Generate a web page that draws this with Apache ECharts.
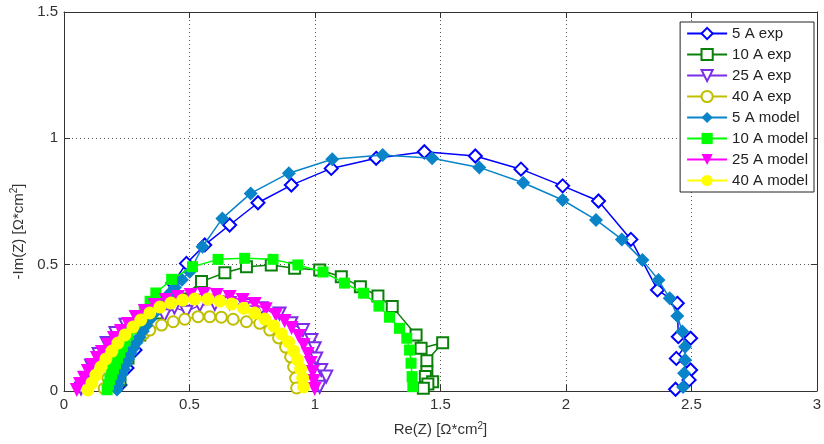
<!DOCTYPE html>
<html>
<head>
<meta charset="utf-8">
<script src="https://cdn.jsdelivr.net/npm/echarts@6/dist/echarts.min.js"></script>
<style>
html,body{margin:0;padding:0;background:#fff;}
#c{width:824px;height:444px;}
</style>
</head>
<body>
<div id="c"></div>
<script>
// ---- data (Re(Z), -Im(Z)) in Ω*cm² ----
var seriesNames = ['5 A exp','10 A exp','25 A exp','40 A exp','5 A model','10 A model','25 A model','40 A model'];
var xTicks = [0, 0.5, 1, 1.5, 2, 2.5, 3];
var yTicks = [0, 0.5, 1, 1.5];

var exp5 = [[0.223,0.024],[0.251,0.091],[0.283,0.162],[0.322,0.241],[0.382,0.340],[0.434,0.427],[0.488,0.505],[0.561,0.578],[0.660,0.657],[0.773,0.745],[0.906,0.815],[1.065,0.881],[1.244,0.921],[1.436,0.947],[1.639,0.930],[1.821,0.878],[1.987,0.812],[2.130,0.752],[2.259,0.600],[2.365,0.400],[2.444,0.347],[2.448,0.215],[2.497,0.209],[2.440,0.129],[2.497,0.083],[2.491,0.044],[2.437,0.007]];
var exp10 = [[0.223,0.044],[0.255,0.131],[0.302,0.222],[0.370,0.309],[0.462,0.364],[0.548,0.433],[0.641,0.468],[0.727,0.492],[0.826,0.499],[0.919,0.486],[1.019,0.479],[1.105,0.452],[1.181,0.413],[1.251,0.376],[1.308,0.334],[1.403,0.222],[1.423,0.169],[1.509,0.191],[1.446,0.120],[1.446,0.076],[1.440,0.057],[1.469,0.037],[1.450,0.028],[1.432,0.011]];
var exp25 = [[0.068,0.010],[0.085,0.052],[0.108,0.100],[0.138,0.146],[0.170,0.190],[0.205,0.230],[0.245,0.262],[0.290,0.290],[0.342,0.313],[0.400,0.300],[0.440,0.330],[0.488,0.314],[0.541,0.340],[0.601,0.344],[0.660,0.348],[0.720,0.340],[0.788,0.328],[0.859,0.307],[0.906,0.268],[0.952,0.241],[0.986,0.202],[0.999,0.169],[1.005,0.129],[1.025,0.083],[1.045,0.057],[1.019,0.017]];
var exp40 = [[0.160,0.010],[0.175,0.051],[0.192,0.091],[0.212,0.131],[0.232,0.162],[0.258,0.190],[0.286,0.214],[0.318,0.226],[0.342,0.241],[0.389,0.261],[0.435,0.274],[0.481,0.284],[0.534,0.294],[0.581,0.294],[0.627,0.292],[0.674,0.284],[0.727,0.274],[0.780,0.268],[0.820,0.241],[0.855,0.210],[0.883,0.174],[0.903,0.135],[0.915,0.095],[0.923,0.051],[0.927,0.012]];

var mod5 = [[0.211,0.006],[0.215,0.025],[0.222,0.045],[0.230,0.066],[0.238,0.086],[0.247,0.107],[0.256,0.127],[0.266,0.148],[0.277,0.170],[0.289,0.192],[0.301,0.214],[0.314,0.236],[0.328,0.259],[0.343,0.283],[0.359,0.307],[0.376,0.331],[0.395,0.356],[0.418,0.383],[0.442,0.410],[0.470,0.440],[0.501,0.472],[0.552,0.571],[0.631,0.683],[0.744,0.782],[0.896,0.862],[1.069,0.917],[1.270,0.934],[1.467,0.921],[1.655,0.885],[1.830,0.824],[1.987,0.756],[2.120,0.677],[2.223,0.600],[2.305,0.518],[2.369,0.439],[2.414,0.367],[2.444,0.297],[2.464,0.235],[2.475,0.175],[2.475,0.123],[2.471,0.070],[2.467,0.016]];
var mod10 = [[0.172,0.005],[0.177,0.025],[0.183,0.045],[0.190,0.066],[0.197,0.087],[0.205,0.108],[0.213,0.130],[0.222,0.152],[0.232,0.175],[0.243,0.198],[0.255,0.222],[0.268,0.246],[0.283,0.271],[0.300,0.297],[0.320,0.323],[0.343,0.355],[0.366,0.388],[0.429,0.442],[0.512,0.492],[0.614,0.521],[0.720,0.525],[0.833,0.521],[0.932,0.499],[1.032,0.471],[1.118,0.427],[1.194,0.387],[1.255,0.336],[1.297,0.292],[1.337,0.248],[1.366,0.209],[1.377,0.162],[1.383,0.110],[1.387,0.057],[1.390,0.017]];
var mod25 = [[0.051,0.004],[0.064,0.028],[0.080,0.051],[0.095,0.079],[0.111,0.103],[0.131,0.131],[0.151,0.154],[0.175,0.182],[0.199,0.210],[0.227,0.237],[0.255,0.265],[0.286,0.293],[0.322,0.317],[0.362,0.340],[0.406,0.360],[0.454,0.372],[0.505,0.380],[0.557,0.384],[0.609,0.380],[0.660,0.372],[0.712,0.360],[0.760,0.344],[0.804,0.324],[0.844,0.301],[0.879,0.277],[0.907,0.249],[0.935,0.218],[0.955,0.182],[0.971,0.146],[0.983,0.111],[0.991,0.075],[0.995,0.040],[0.999,0.008]];
var mod40 = [[0.095,0.004],[0.111,0.032],[0.127,0.063],[0.147,0.095],[0.167,0.127],[0.191,0.158],[0.215,0.190],[0.243,0.222],[0.275,0.253],[0.306,0.281],[0.342,0.309],[0.382,0.332],[0.426,0.348],[0.473,0.360],[0.521,0.364],[0.573,0.364],[0.621,0.356],[0.668,0.344],[0.716,0.328],[0.760,0.309],[0.800,0.285],[0.836,0.257],[0.867,0.226],[0.895,0.194],[0.915,0.158],[0.931,0.123],[0.943,0.087],[0.951,0.051],[0.955,0.016]];

var colors = ['#0000ff','#0a800a','#7b2ee6','#bfbf00','#0a84c8','#00ff00','#ff00ff','#ffff00'];
var datasets = [exp5, exp10, exp25, exp40, mod5, mod10, mod25, mod40];
var symbols = ['emptyDiamond','emptyRect','emptyTriangle','emptyCircle','diamond','rect','triangle','circle'];
var sizes = [13, 11, 12, 11, 14, 11, 14, 13];
var rotates = [0,0,180,0,0,0,180,0];

var FONT = 'Liberation Sans, Arial, sans-serif';
var AXC = '#333333';

var series = seriesNames.map(function(n, i){
  var empty = i < 4;
  return {
    name: n, type: 'line', data: datasets[i],
    symbol: symbols[i], symbolSize: sizes[i], symbolRotate: rotates[i],
    showAllSymbol: true, z: 2 + i,
    lineStyle: {color: colors[i], width: 1.5},
    itemStyle: {color: colors[i], borderColor: colors[i], borderWidth: empty ? 1.5 : 0},
    emphasis: {disabled: true}
  };
});

var chart = echarts.init(document.getElementById('c'), null, {renderer: 'canvas'});
var baseAxis = {
  type: 'value', min: 0, interval: 0.5,
  axisLine: {show: true, onZero: false, lineStyle: {color: AXC, width: 1}},
  axisTick: {show: true, inside: true, length: 6, lineStyle: {color: AXC}},
  splitLine: {show: false}
};
chart.setOption({
  animation: false,
  backgroundColor: '#fff',
  textStyle: {fontFamily: FONT},
  grid: {left: 64, right: 6, top: 12, bottom: 53, containLabel: false},
  legend: {
    data: seriesNames, orient: 'vertical', right: 10, top: 22,
    backgroundColor: '#fff', borderColor: '#222', borderWidth: 1,
    padding: [4, 6, 4, 6], itemGap: 6, itemWidth: 40, itemHeight: 14,
    textStyle: {fontSize: 15, fontFamily: FONT, color: '#222', lineHeight: 14}
  },
  xAxis: [
    Object.assign({}, baseAxis, {
      position: 'bottom', max: 3,
      axisLabel: {fontSize: 15, color: AXC, margin: 6, fontFamily: FONT,
        formatter: function(v){ return xTicks.indexOf(v) >= 0 ? String(v) : ''; }},
      splitLine: {show: true, lineStyle: {color: '#555', width: 1, type: [1, 3]}},
      name: 'Re(Z) [Ω*cm{s|2}]', nameLocation: 'middle', nameGap: 30,
      nameTextStyle: {fontSize: 15, color: AXC, fontFamily: FONT,
        rich: {s: {fontSize: 10, verticalAlign: 'top', padding: [0,0,8,0], color: AXC}}}
    }),
    Object.assign({}, baseAxis, {position: 'top', max: 3, axisLabel: {show: false}})
  ],
  yAxis: [
    Object.assign({}, baseAxis, {
      position: 'left', max: 1.5,
      axisLabel: {fontSize: 15, color: AXC, margin: 6, fontFamily: FONT,
        formatter: function(v){ return yTicks.indexOf(v) >= 0 ? String(v) : ''; }},
      splitLine: {show: true, lineStyle: {color: '#555', width: 1, type: [1, 3]}},
      name: '-Im(Z) [Ω*cm{s|2}]', nameLocation: 'middle', nameGap: 30,
      nameTextStyle: {fontSize: 15, color: AXC, fontFamily: FONT, padding: [0, 60, 0, 0],
        rich: {s: {fontSize: 10, verticalAlign: 'top', padding: [0,0,8,0], color: AXC}}}
    }),
    Object.assign({}, baseAxis, {position: 'right', max: 1.5, axisLabel: {show: false}})
  ],
  series: series
});
</script>
</body>
</html>
